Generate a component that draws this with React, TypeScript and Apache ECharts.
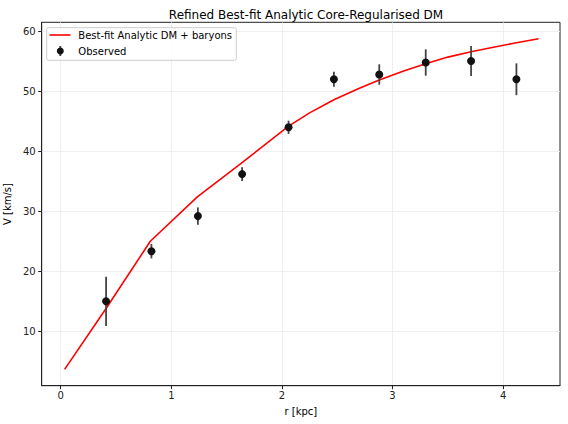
import React, { useEffect, useRef } from "react";
import * as echarts from "echarts";

const obsR = [0.41, 0.82, 1.24, 1.64, 2.06, 2.47, 2.88, 3.3, 3.71, 4.12];
const obsV = [15.0, 23.35, 29.2, 36.2, 44.0, 52.0, 52.8, 54.8, 55.05, 52.0];
const obsErr = [4.1, 1.2, 1.45, 1.15, 1.1, 1.25, 1.7, 2.2, 2.5, 2.65];

const fitR = [0.035, 0.41, 0.81, 1.235, 1.625, 2.06, 2.25, 2.47, 2.7, 2.88, 3.1, 3.3, 3.5, 3.71, 3.9, 4.12, 4.32];
const fitV = [3.65, 13.8, 25.0, 32.4, 37.9, 44.2, 46.4, 48.6, 50.5, 51.9, 53.4, 54.6, 55.7, 56.6, 57.3, 58.1, 58.75];

const xTicks = [0, 1, 2, 3, 4];
const yTicks = [10, 20, 30, 40, 50, 60];

const FONT = "DejaVu Sans";

export default function App() {
  const ref = useRef<HTMLDivElement>(null);
  useEffect(() => {
    if (!ref.current) return;
    const chart = echarts.init(ref.current, null, { renderer: "svg" });
    const errData = obsR.map((r, i) => [r, obsV[i] - obsErr[i], obsV[i] + obsErr[i]]);
    const gridLeft = 41.7;
    const gridTop = 22.3;
    const gridRight = 8;
    const gridBottom = 38.3;
    chart.setOption({
      animation: false,
      backgroundColor: "#ffffff",
      textStyle: { fontFamily: FONT },
      title: {
        text: "Refined Best-fit Analytic Core-Regularised DM",
        left: 301,
        top: 4,
        textAlign: "center",
        textStyle: { fontFamily: FONT, fontSize: 12, fontWeight: "normal", color: "#000" },
      },
      grid: {
        left: gridLeft,
        top: gridTop,
        right: gridRight,
        bottom: gridBottom,
        containLabel: false,
        outerBoundsMode: "none",
        show: true,
        borderColor: "#222",
        borderWidth: 1,
        backgroundColor: "transparent",
      },
      xAxis: {
        type: "value",
        min: -0.172,
        max: 4.514,
        name: "r [kpc]",
        nameLocation: "middle",
        nameGap: 21,
        nameTextStyle: { fontFamily: FONT, fontSize: 10, color: "#000" },
        axisLine: { show: true, onZero: false, lineStyle: { color: "#222", width: 1 } },
        axisTick: { show: true, customValues: xTicks, length: 3.5, lineStyle: { color: "#222" } },
        axisLabel: { customValues: xTicks, fontFamily: FONT, fontSize: 10, color: "#222", margin: 5 },
        splitLine: { show: true, lineStyle: { color: "#ebebeb", width: 0.8 } },
      },
      yAxis: {
        type: "value",
        min: 0.93,
        max: 61.5,
        name: "V [km/s]",
        nameLocation: "middle",
        nameGap: 26,
        nameRotate: 90,
        nameTextStyle: { fontFamily: FONT, fontSize: 10, color: "#000" },
        axisLine: { show: true, onZero: false, lineStyle: { color: "#222", width: 1 } },
        axisTick: { show: true, customValues: yTicks, length: 3.5, lineStyle: { color: "#222" } },
        axisLabel: { customValues: yTicks, fontFamily: FONT, fontSize: 10, color: "#222", margin: 6 },
        splitLine: { show: true, lineStyle: { color: "#ebebeb", width: 0.8 } },
      },
      series: [
        {
          name: "Best-fit Analytic DM + baryons",
          type: "line",
          data: fitR.map((r, i) => [r, fitV[i]]),
          showSymbol: false,
          symbol: "none",
          lineStyle: { color: "#ff0000", width: 1.6 },
          z: 3,
        },
        {
          name: "errors",
          type: "custom",
          data: errData,
          renderItem: (params: any, api: any) => {
            const x = api.value(0);
            const p1 = api.coord([x, api.value(1)]);
            const p2 = api.coord([x, api.value(2)]);
            return {
              type: "line",
              shape: { x1: p1[0], y1: p1[1], x2: p2[0], y2: p2[1] },
              style: { stroke: "#444444", lineWidth: 1.8 },
            };
          },
          z: 4,
        },
        {
          name: "Observed",
          type: "scatter",
          data: obsR.map((r, i) => [r, obsV[i]]),
          symbol: "circle",
          symbolSize: 8,
          itemStyle: { color: "#111111", opacity: 1 },
          z: 5,
        },
      ],
      graphic: [
        {
          type: "rect",
          shape: { x: 46.7, y: 27.7, width: 189.6, height: 32.6, r: 2 },
          style: { fill: "rgba(255,255,255,0.8)", stroke: "#cccccc", lineWidth: 1 },
          z: 10,
        },
        {
          type: "line",
          shape: { x1: 49.5, y1: 35, x2: 70.5, y2: 35 },
          style: { stroke: "#ff0000", lineWidth: 1.6 },
          z: 11,
        },
        {
          type: "text",
          x: 78.3,
          y: 35,
          style: { text: "Best-fit Analytic DM + baryons", fontFamily: FONT, fontSize: 10, fill: "#000", verticalAlign: "middle" },
          z: 11,
        },
        {
          type: "line",
          shape: { x1: 60.3, y1: 46, x2: 60.3, y2: 56 },
          style: { stroke: "#444444", lineWidth: 1.8 },
          z: 11,
        },
        {
          type: "circle",
          shape: { cx: 60.3, cy: 51, r: 3.5 },
          style: { fill: "#111111" },
          z: 12,
        },
        {
          type: "text",
          x: 78.3,
          y: 51,
          style: { text: "Observed", fontFamily: FONT, fontSize: 10, fill: "#000", verticalAlign: "middle" },
          z: 11,
        },
      ],
    });
    return () => chart.dispose();
  }, []);
  return <div ref={ref} style={{ width: 568, height: 424, position: "absolute", left: 0, top: 0 }} />;
}
